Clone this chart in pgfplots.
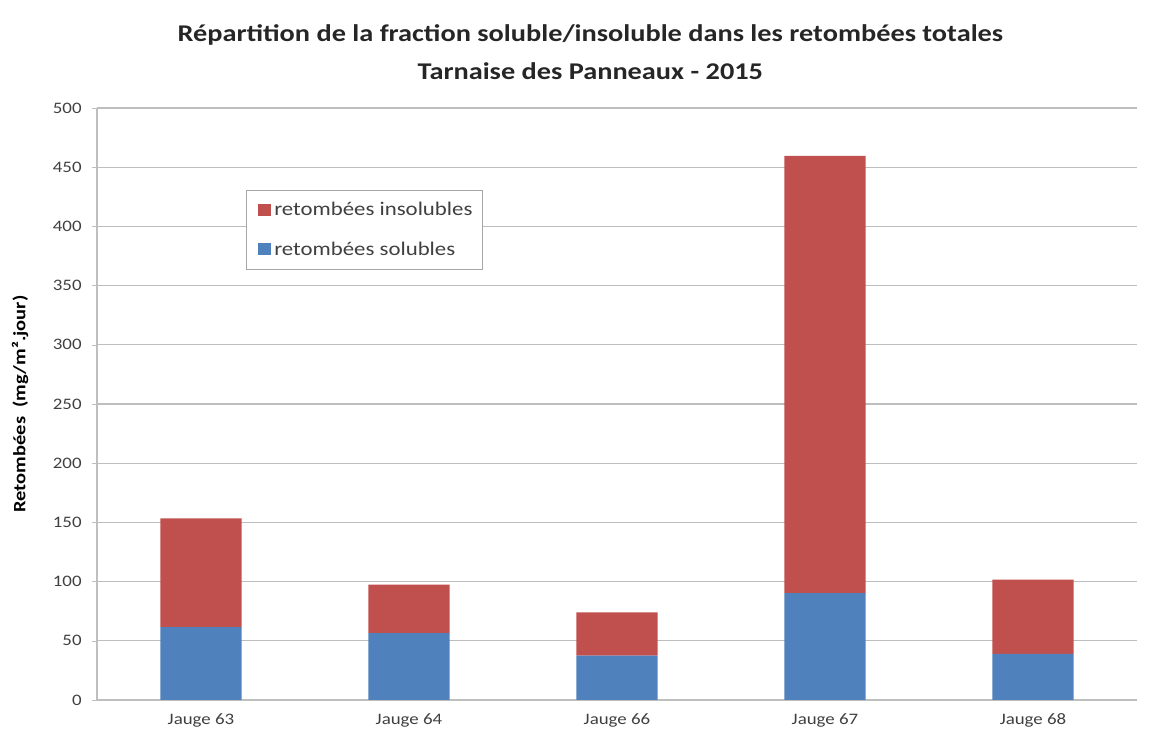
\documentclass[border=0pt]{standalone}
\usepackage{fontspec}
\setmainfont{Carlito}[FakeStretch=1.18]
\usepackage{pgfplots}
\pgfplotsset{compat=1.18}

\definecolor{insol}{HTML}{C0504D}
\definecolor{sol}{HTML}{4F81BD}
\definecolor{gridc}{HTML}{BEBEBE}
\definecolor{txt}{HTML}{404040}

\begin{document}
\begin{tikzpicture}
  \path[use as bounding box] (-72.75pt,-42pt) rectangle (792pt,525pt);
  \begin{axis}[
      at={(0pt,0pt)}, anchor=south west,
      scale only axis,
      width=780pt, height=444pt,
      ybar stacked,
      bar width=61pt,
      xmin=-0.5, xmax=4.5,
      ymin=0, ymax=500,
      ytick={0,50,...,500},
      xtick={0,1,2,3,4},
      xticklabels={Jauge 63,Jauge 64,Jauge 66,Jauge 67,Jauge 68},
      major x tick style={draw=none},
      extra x ticks={-0.5,0.5,1.5,2.5,3.5,4.5},
      extra x tick labels={},
      extra x tick style={major tick length=5pt, tick style={draw=gridc}, grid=none},
      tick align=outside,
      major tick length=4pt,
      ytick style={draw=gridc},
      axis x line*=bottom,
      axis y line*=left,
      axis line style={draw=gridc, line width=0.8pt},
      ymajorgrids,
      grid style={draw=gridc, line width=0.8pt},
      every tick label/.append style={font=\fontsize{12}{14}\selectfont, text=txt},
      /pgf/number format/assume math mode=true,
      xticklabel style={yshift=-3pt},
      yticklabel style={xshift=-4pt},
      ylabel={\textbf{Retombées\ \ (mg/m².jour)}},
      ylabel style={font=\fontsize{13}{15}\selectfont, at={(axis description cs:-0.074,0.5)}, anchor=center},
      legend style={at={(rel axis cs:0.1433,0.8615)}, anchor=north west,
        draw=gray!70, font=\fontsize{14.5}{16}\selectfont, text=txt,
        inner xsep=5pt, inner ysep=7pt, row sep=14pt, cells={anchor=west}},
      legend image code/.code={\path (0pt,0pt) (14pt,0pt);
        \fill[#1] (4pt,-4.5pt) rectangle (13.5pt,4.5pt);},
      reverse legend,
    ]
    \addplot[fill=sol, draw=none] coordinates {(0,61.5) (1,56.4) (2,37.5) (3,90.3) (4,39)};
    \addlegendentry{retombées solubles}
    \addplot[fill=insol, draw=none] coordinates {(0,91.9) (1,41.1) (2,36.5) (3,369.3) (4,62.7)};
    \addlegendentry{retombées insolubles}
  \end{axis}
  \node[align=center, font=\bfseries\fontsize{18}{28}\selectfont, text=black!85] at (370pt,486pt)
    {Répartition de la fraction soluble/insoluble dans les retombées totales\\Tarnaise des Panneaux - 2015};
\end{tikzpicture}
\end{document}
